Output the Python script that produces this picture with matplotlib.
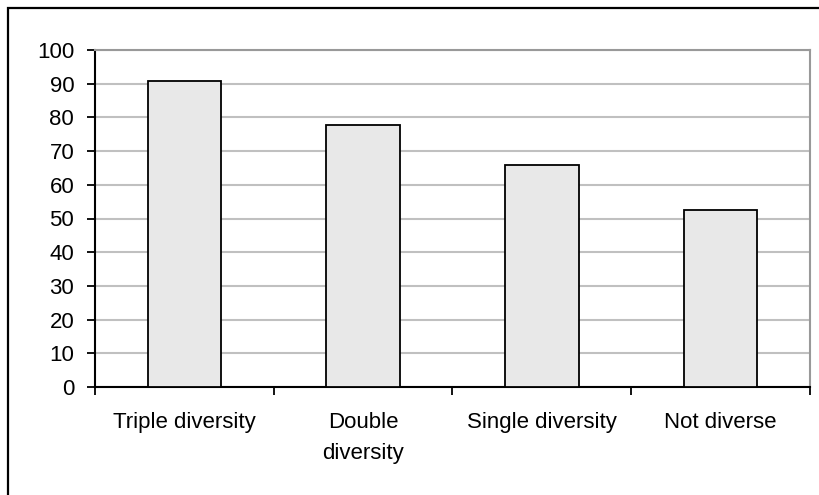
import matplotlib
matplotlib.use('Agg')
import matplotlib.pyplot as plt
from matplotlib.patches import Rectangle

plt.rcParams['font.family'] = ['Liberation Sans', 'DejaVu Sans']

# data
categories = ['Triple diversity', 'Double\ndiversity', 'Single diversity', 'Not diverse']
values = [90.7, 77.7, 66.0, 52.4]
yticks = list(range(0, 101, 10))

W, H = 820, 495
fig = plt.figure(figsize=(W / 100, H / 100), dpi=100)
ax = fig.add_axes([95 / W, 1 - 387 / H, (810 - 95) / W, (387 - 50) / H])

x = list(range(len(categories)))
ax.bar(x, values, width=0.41, color='#e8e8e8', edgecolor='black', linewidth=1.3, zorder=3)

ax.set_xlim(-0.5, len(categories) - 0.5)
ax.set_ylim(0, 100)
ax.set_yticks(yticks)
ax.yaxis.grid(True, color='#c0c0c0', linewidth=1.5, zorder=0)
ax.set_axisbelow(True)

# category boundaries get the ticks, labels sit in the middle
ax.set_xticks([i - 0.5 for i in range(len(categories) + 1)])
ax.set_xticklabels([])
ax.set_xticks(x, minor=True)
ax.set_xticklabels(categories, minor=True, fontsize=16, linespacing=1.65)
ax.tick_params(axis='x', which='major', direction='out', length=6, width=1.3, color='black')
ax.tick_params(axis='x', which='minor', length=0, pad=18)
ax.tick_params(axis='y', direction='out', length=6, width=1.3, pad=9, labelsize=16)

for s in ['left', 'bottom']:
    ax.spines[s].set_color('black')
    ax.spines[s].set_linewidth(1.5)
for s in ['top', 'right']:
    ax.spines[s].set_color('#999999')
    ax.spines[s].set_linewidth(1.5)

# outer chart border (cut off on right and bottom)
fig.add_artist(Rectangle((8 / W, -0.5), 2, 1 - 8 / H + 0.5, transform=fig.transFigure,
                         fill=False, edgecolor='black', linewidth=1.6, clip_on=False))

fig.savefig('out.png', dpi=100)
